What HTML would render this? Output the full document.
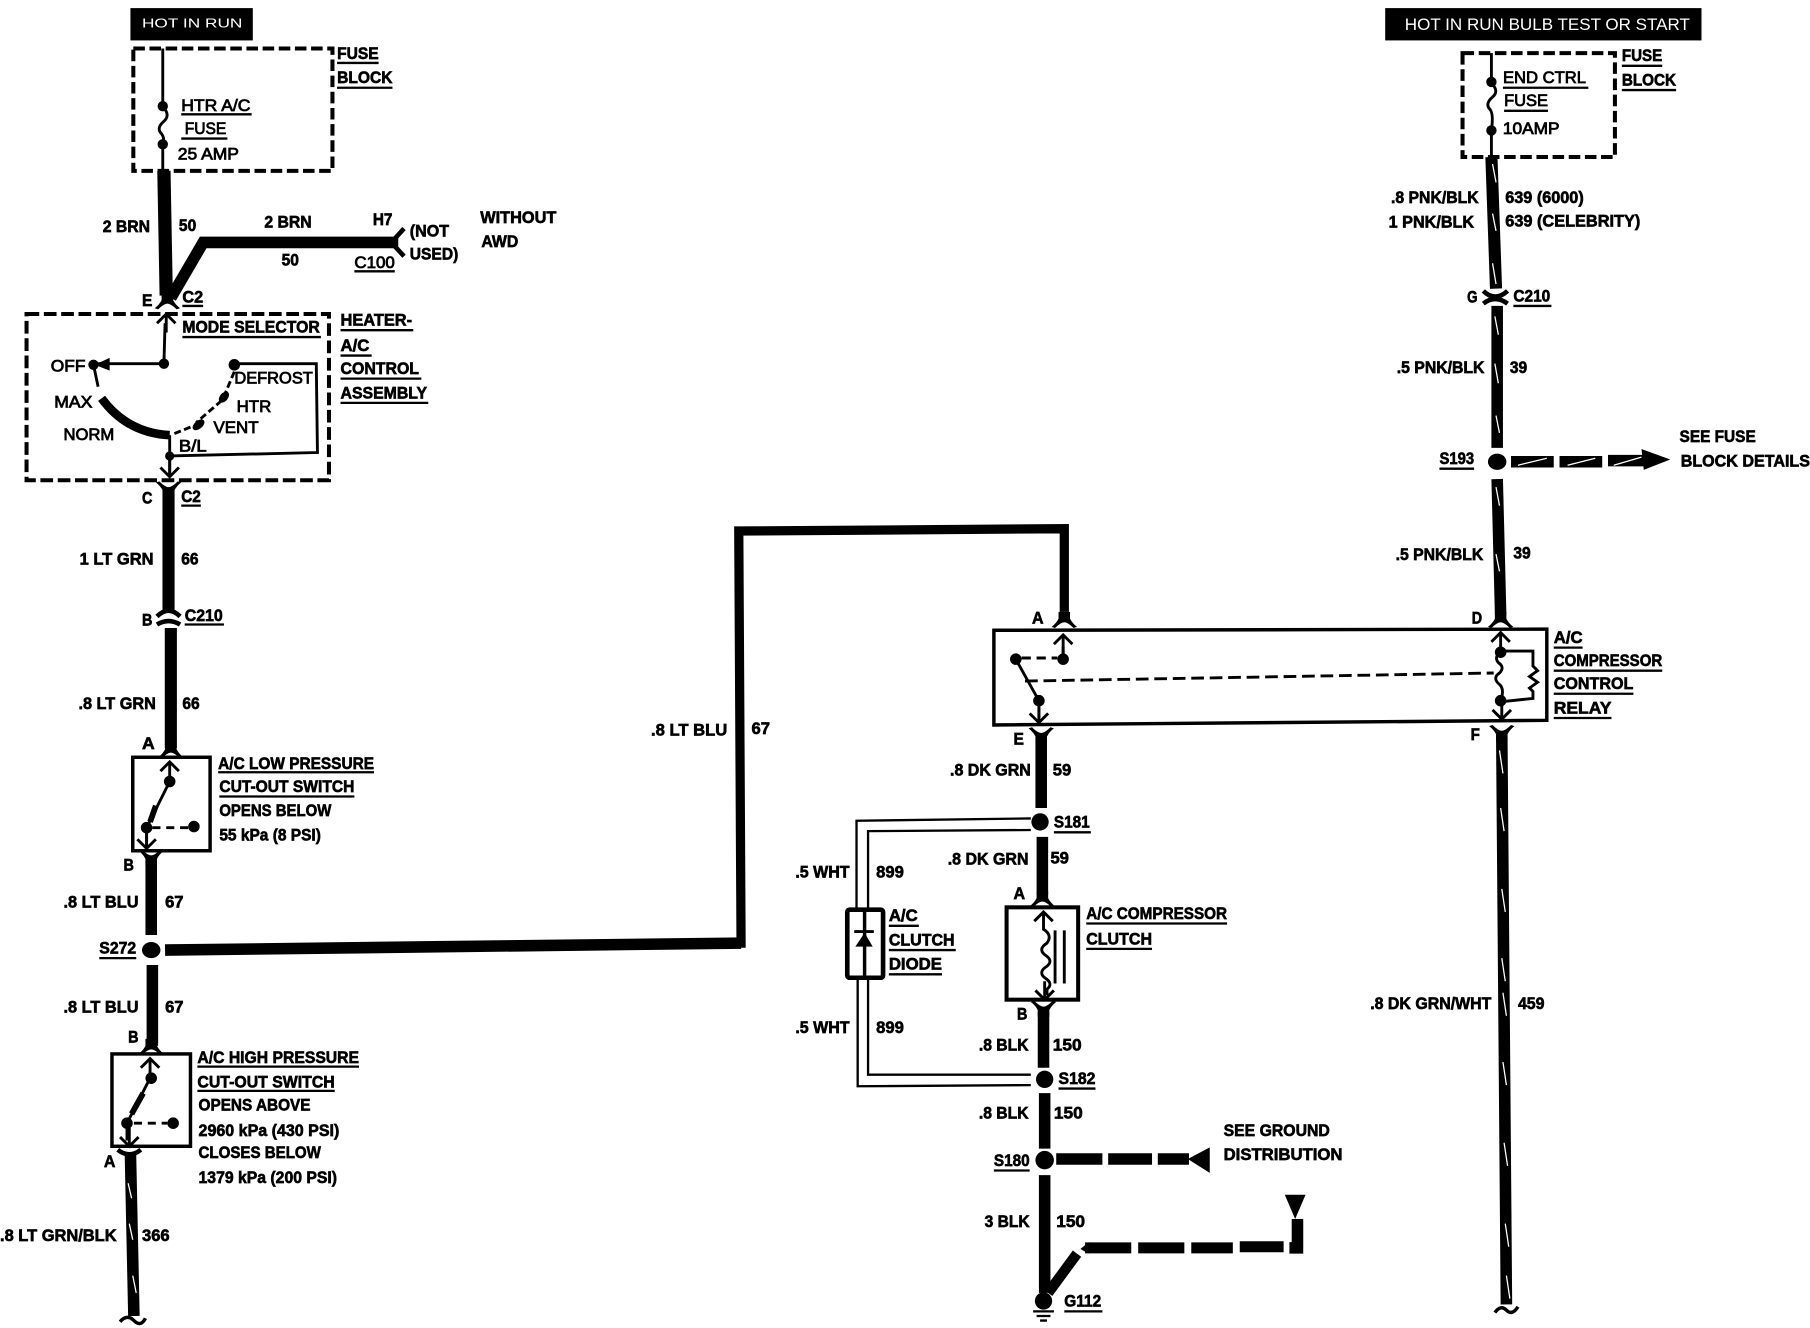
<!DOCTYPE html>
<html><head><meta charset="utf-8"><style>
html,body{margin:0;padding:0;background:#fff;width:1810px;height:1328px;overflow:hidden}
svg{display:block}
text{font-family:"Liberation Sans",sans-serif;font-weight:700;font-size:14.5px;fill:#000;stroke:#000;stroke-width:.55px}
.n{font-weight:400;stroke-width:.7px;font-size:14.5px}
.w{fill:#fff;stroke:none;font-weight:400}
.ul{stroke:#000;stroke-width:2;fill:none}
.wb{stroke:#000;fill:none}
.t{stroke:#000;fill:none;stroke-width:2.5}
.s{stroke:#fff;fill:none;stroke-width:1.1}
</style></head><body>
<svg width="1810" height="1328" viewBox="0 0 1568 1150.4" xmlns="http://www.w3.org/2000/svg">
<rect width="1568" height="1151" fill="#fff"/>
<defs>
<path id="fb" d="M-5,-8 V-2 Q-7,2 -11,5 L-8,6 Q-3,1 0,1 Q3,1 8,6 L11,5 Q7,2 5,-2 V-8 Z"/>
<path id="ft" d="M-5,8 V2 Q-7,-2 -11,-5 L-8,-6 Q-3,-1 0,-1 Q3,-1 8,-6 L11,-5 Q7,-2 5,2 V8 Z"/>
<path id="au" d="M-8,8 L0,0 L8,8 M0,0 V16" fill="none" stroke="#000" stroke-width="2.5"/>
<path id="ad" d="M-8,-8 L0,0 L8,-8 M0,0 V-16" fill="none" stroke="#000" stroke-width="2.5"/>
</defs>

<!-- black header boxes -->
<rect x="113" y="7" width="106" height="28" fill="#000"/>
<text class="w" x="123" y="24" style="font-size:11.5px" textLength="87" lengthAdjust="spacingAndGlyphs">HOT IN RUN</text>
<rect x="1200" y="7" width="274" height="28" fill="#000"/>
<text class="w" x="1217" y="26" style="font-size:14px" textLength="247" lengthAdjust="spacingAndGlyphs">HOT IN RUN BULB TEST OR START</text>

<!-- dashed blocks -->
<rect x="115.500" y="42" width="172.500" height="106" fill="none" stroke="#000" stroke-width="3.500" stroke-dasharray="10 4"/>
<rect x="23" y="272" width="262" height="144" fill="none" stroke="#000" stroke-width="3.500" stroke-dasharray="11 4"/>
<rect x="1267" y="46" width="132" height="90" fill="none" stroke="#000" stroke-width="3.500" stroke-dasharray="10 4"/>

<!-- left fuse -->
<path class="t" d="M141,42 V92 M141,125 V148"/>
<path class="t" d="M141,92 q7,8 1,13 q-7,6 -2,11 q3,4 1,9"/>
<circle cx="141" cy="92" r="4.500"/><circle cx="141" cy="125" r="4.500"/>
<!-- brown wires -->
<path class="wb" stroke-width="11.500" d="M142,148 L144,256"/>
<path class="wb" stroke-width="10" d="M148,258 L176,210 H345"/>
<path d="M339,210 L350,198 M339,210 L350,222" stroke="#000" stroke-width="4" fill="none"/>
<use href="#fb" x="145" y="262"/>
<use href="#au" x="144" y="272"/>

<!-- mode selector interior -->
<path class="t" d="M143,280 L142,315 H84"/>
<path d="M95,310 L82,316 L95,321 Z"/>
<circle cx="142" cy="315" r="4.500"/><circle cx="81" cy="316" r="4.500"/>
<path class="t" d="M81,316 L85,335"/>
<path d="M88,345 Q110,375 147,377" fill="none" stroke="#000" stroke-width="7.500"/>
<path class="t" d="M147,377 V410"/>
<use href="#ad" x="147" y="413"/>
<circle cx="147" cy="395" r="4"/>
<path class="t" d="M147,395 L275,392 L274,315 H203"/>
<circle cx="203" cy="316" r="5"/>
<path class="t" d="M203,322 L195,341 M192,347 L170,366 M165,370 L150,376" stroke-dasharray="6 3"/>
<ellipse cx="194" cy="344" rx="3.500" ry="5.500" transform="rotate(40 194 344)"/><ellipse cx="172" cy="368" rx="3.500" ry="6" transform="rotate(50 172 368)"/>

<!-- left lower wires -->
<use href="#ft" x="146" y="423"/>
<path class="wb" stroke-width="10.500" d="M146,425 V528"/>
<path d="M136,534 Q146,524 156,534 M136,541 Q146,535 156,541" stroke="#000" stroke-width="4" fill="none"/>
<path class="wb" stroke-width="10.500" d="M148,544 V648"/>
<use href="#fb" x="148" y="651"/>
<rect x="115" y="656" width="67" height="81" fill="none" stroke="#000" stroke-width="3"/>
<use href="#au" x="147" y="660"/>
<path class="t" d="M147,677 L127,717 V733"/>
<path d="M135,698 L130,712" stroke="#000" stroke-width="5" fill="none"/>
<circle cx="147" cy="677" r="5"/><circle cx="127" cy="717" r="5"/><circle cx="168" cy="716" r="5"/>
<path class="t" d="M132,717 H163" stroke-dasharray="7 5"/>
<use href="#ad" x="127" y="735"/>
<use href="#ft" x="131" y="742"/>
<path class="wb" stroke-width="10" d="M131,746 V810"/>
<ellipse cx="131" cy="823" rx="8" ry="7"/>
<path class="wb" stroke-width="10" d="M143,823 L642,817"/>
<path class="wb" stroke-width="8" d="M642,821 L640,460 L922,458 V530"/>
<path class="wb" stroke-width="10" d="M132,836 V906"/>
<use href="#fb" x="131" y="908"/>
<rect x="97" y="913" width="68" height="80" fill="none" stroke="#000" stroke-width="3"/>
<use href="#au" x="130" y="917"/>
<path class="t" d="M130,928 V934 L110,973 V988"/>
<path d="M124,947 L114,965" stroke="#000" stroke-width="5" fill="none"/>
<circle cx="131" cy="934" r="5"/><circle cx="110" cy="973" r="5"/><circle cx="150" cy="973" r="5"/>
<path class="t" d="M116,973 H145" stroke-dasharray="7 5"/>
<use href="#ad" x="112" y="993"/>
<path d="M102,996 Q112,1004 122,996" stroke="#000" stroke-width="4" fill="none"/>
<path class="wb" stroke-width="10" d="M113,1000 L116,1140"/>
<path d="M104,1145 Q110,1138 116,1144 Q122,1150 126,1142" stroke="#000" stroke-width="3" fill="none"/>
<path class="s" d="M111,1025 L114,1038 M112,1060 L115,1074 M115,1105 L118,1120"/>

<!-- relay box -->
<path d="M861,546 L1340,545 L1340,624 L861,628 Z" fill="none" stroke="#000" stroke-width="3"/>
<use href="#fb" x="922" y="538"/>
<use href="#au" x="921" y="550"/>
<path class="t" d="M921,560 V571"/>
<circle cx="921" cy="571" r="5"/><circle cx="880" cy="571" r="5"/><circle cx="900" cy="607" r="5"/>
<path class="t" d="M885,570 H916" stroke-dasharray="8 5"/>
<path class="t" d="M880,571 L900,607 V622"/>
<use href="#ad" x="900" y="626"/>
<path class="t" d="M888,590 L1294,583" stroke-width="2" stroke-dasharray="11 5"/>
<use href="#fb" x="1300" y="538"/>
<use href="#au" x="1300" y="548"/>
<circle cx="1300" cy="565" r="5"/><circle cx="1300" cy="607" r="5"/>
<path class="t" d="M1300,565 q-6,4 -2,9 q6,4 1,9 q-6,4 -1,9 q6,4 2,15"/>
<path class="t" d="M1300,564 H1328 V577 l4,4 l-7,5 l7,5 l-7,5 l3,3 V605 L1300,608"/>
<use href="#ad" x="1301" y="623"/>

<!-- right wire -->
<path class="t" d="M1292,46 V72 M1292,113 V136"/>
<path class="t" d="M1292,72 q7,7 1,12 q-7,6 -2,11 q3,4 1,18"/>
<circle cx="1292" cy="71" r="4.500"/><circle cx="1292" cy="113" r="4.500"/>
<path class="wb" stroke-width="10.500" d="M1292,136 L1296,250"/>
<path d="M1285,252 Q1295,262 1306,252 M1285,263 Q1295,255 1306,263" stroke="#000" stroke-width="4" fill="none"/>
<path class="wb" stroke-width="10" d="M1297,265 V388"/>
<ellipse cx="1297" cy="400" rx="8" ry="7"/>
<path class="wb" stroke-width="10" d="M1297,415 L1300,532"/>
<path class="s" d="M1293,142 L1296,158 M1293,185 L1296,200 M1293,228 L1296,246 M1295,274 L1298,290 M1295,315 L1298,332 M1296,360 L1299,375 M1296,422 L1299,438 M1296,480 L1299,495"/>
<path class="wb" stroke-width="10" d="M1301,638 L1305,1130"/>
<use href="#ft" x="1301" y="634"/>
<path class="s" d="M1299,650 L1302,670 M1300,700 L1303,720 M1301,770 L1304,790 M1301,830 L1304,850 M1302,860 L1305,880 M1302,920 L1305,940 M1303,990 L1306,1010 M1304,1060 L1307,1080 M1305,1105 L1308,1125"/>
<path d="M1295,1137 Q1300,1130 1305,1135 Q1310,1140 1315,1132" stroke="#000" stroke-width="3" fill="none"/>
<path class="wb" stroke-width="10" d="M1309,400 H1346 M1351,400 H1388 M1393,399 H1426"/>
<path class="s" d="M1315,403 L1340,397 M1358,403 L1382,397 M1398,403 L1422,396" stroke-width="1"/>
<path d="M1422,389 L1447,398 L1424,407 Z"/>

<!-- center column -->
<use href="#ft" x="902" y="636"/>
<path class="wb" stroke-width="10" d="M902,640 V700"/>
<circle cx="901" cy="712" r="7.500"/>
<path class="wb" stroke-width="10" d="M903,725 V775"/>
<use href="#fb" x="903" y="780"/>
<rect x="872" y="786" width="62" height="80" fill="none" stroke="#000" stroke-width="3.500"/>
<use href="#au" x="904" y="790"/>
<path class="t" d="M904,805 q8,5 3,12 q-8,5 -2,10 q8,5 2,10 q-8,5 -2,10 q8,5 2,10 V862"/>
<use href="#ad" x="905" y="866"/>
<path class="t" d="M914,806 V852 M922,806 V852" stroke-width="1.800"/>
<use href="#ft" x="904" y="873"/>
<path class="wb" stroke-width="10" d="M904,876 V925"/>
<circle cx="905" cy="935" r="7.500"/>
<path class="wb" stroke-width="10" d="M905,947 V995"/>
<circle cx="905" cy="1005" r="8"/>
<path class="wb" stroke-width="10" d="M905,1018 V1120"/>
<circle cx="904" cy="1127" r="7.500"/>
<path d="M895,1136 H913 M898,1140 H910 M901,1144 H907" stroke="#000" stroke-width="2" fill="none"/>
<path class="wb" stroke-width="10" d="M915,1004 H955 M960,1004 H998 M1003,1004 H1030"/>
<path d="M1029,1004 L1048,994 V1016 Z"/>
<path class="wb" stroke-width="9" d="M908,1120 L933,1086"/>
<path class="wb" stroke-width="9.500" d="M940,1081 H980 M986,1081 H1026 M1032,1081 H1068 M1074,1080 H1112"/>
<path class="wb" stroke-width="10" d="M1117,1081 H1124 V1056"/>
<path d="M1113,1035 H1131 L1122,1056 Z"/>
<path d="M936,1082 L943,1076 V1086 Z"/>

<!-- white wires / diode -->
<path d="M893,709 L742,711 V787 M893,719 L752,720 V787 M752,848 V931 H893 M743,848 V941 L893,940" fill="none" stroke="#000" stroke-width="2"/>
<rect x="734" y="788" width="31" height="59" rx="2" fill="none" stroke="#000" stroke-width="4"/>
<path d="M749,789 V847" stroke="#000" stroke-width="3"/>
<path d="M749,808 L756,820 H741 Z" /><path d="M740,807 H757" stroke="#000" stroke-width="2.500"/>

<!-- texts -->
<g>
<text x="292" y="51" textLength="36" lengthAdjust="spacingAndGlyphs">FUSE</text>
<text x="292" y="72" textLength="48" lengthAdjust="spacingAndGlyphs">BLOCK</text>
<text class="n" x="157" y="96" textLength="60" lengthAdjust="spacingAndGlyphs">HTR A/C</text>
<text class="n" x="160" y="116" textLength="36" lengthAdjust="spacingAndGlyphs">FUSE</text>
<text class="n" x="154" y="138" textLength="53" lengthAdjust="spacingAndGlyphs">25 AMP</text>
<text x="89" y="201" textLength="41" lengthAdjust="spacingAndGlyphs">2 BRN</text>
<text x="155" y="200" textLength="15" lengthAdjust="spacingAndGlyphs">50</text>
<text x="229" y="197" textLength="41" lengthAdjust="spacingAndGlyphs">2 BRN</text>
<text x="323" y="195" textLength="17" lengthAdjust="spacingAndGlyphs">H7</text>
<text x="355" y="205" textLength="34" lengthAdjust="spacingAndGlyphs">(NOT</text>
<text x="355" y="225" textLength="42" lengthAdjust="spacingAndGlyphs">USED)</text>
<text x="244" y="230" textLength="15" lengthAdjust="spacingAndGlyphs">50</text>
<text class="n" x="307" y="232" textLength="35" lengthAdjust="spacingAndGlyphs">C100</text>
<text x="416" y="193" textLength="66" lengthAdjust="spacingAndGlyphs">WITHOUT</text>
<text x="417" y="214" textLength="32" lengthAdjust="spacingAndGlyphs">AWD</text>
<text x="123" y="265" textLength="9" lengthAdjust="spacingAndGlyphs">E</text>
<text x="158" y="262" textLength="18" lengthAdjust="spacingAndGlyphs">C2</text>
<text x="158" y="288" textLength="119" lengthAdjust="spacingAndGlyphs">MODE SELECTOR</text>
<text x="295" y="282" textLength="62" lengthAdjust="spacingAndGlyphs">HEATER-</text>
<text x="295" y="304" textLength="25" lengthAdjust="spacingAndGlyphs">A/C</text>
<text x="295" y="324" textLength="68" lengthAdjust="spacingAndGlyphs">CONTROL</text>
<text x="295" y="345" textLength="75" lengthAdjust="spacingAndGlyphs">ASSEMBLY</text>
<text class="n" x="44" y="322" textLength="30" lengthAdjust="spacingAndGlyphs">OFF</text>
<text class="n" x="47" y="353" textLength="33" lengthAdjust="spacingAndGlyphs">MAX</text>
<text class="n" x="55" y="381" textLength="44" lengthAdjust="spacingAndGlyphs">NORM</text>
<text class="n" x="203" y="332" textLength="68" lengthAdjust="spacingAndGlyphs">DEFROST</text>
<text class="n" x="205" y="357" textLength="30" lengthAdjust="spacingAndGlyphs">HTR</text>
<text class="n" x="185" y="375" textLength="39" lengthAdjust="spacingAndGlyphs">VENT</text>
<text class="n" x="155" y="391" textLength="24" lengthAdjust="spacingAndGlyphs">B/L</text>
<text x="123" y="436" textLength="9" lengthAdjust="spacingAndGlyphs">C</text>
<text x="157" y="435" textLength="17" lengthAdjust="spacingAndGlyphs">C2</text>
<text x="69" y="489" textLength="64" lengthAdjust="spacingAndGlyphs">1 LT GRN</text>
<text x="157" y="489" textLength="15" lengthAdjust="spacingAndGlyphs">66</text>
<text x="123" y="542" textLength="9" lengthAdjust="spacingAndGlyphs">B</text>
<text x="160" y="538" textLength="33" lengthAdjust="spacingAndGlyphs">C210</text>
<text x="68" y="614" textLength="67" lengthAdjust="spacingAndGlyphs">.8 LT GRN</text>
<text x="158" y="614" textLength="15" lengthAdjust="spacingAndGlyphs">66</text>
<text x="123" y="649" textLength="11" lengthAdjust="spacingAndGlyphs">A</text>
<text x="189" y="666" textLength="135" lengthAdjust="spacingAndGlyphs">A/C LOW PRESSURE</text>
<text x="190" y="686" textLength="117" lengthAdjust="spacingAndGlyphs">CUT-OUT SWITCH</text>
<text x="190" y="707" textLength="97" lengthAdjust="spacingAndGlyphs">OPENS BELOW</text>
<text x="190" y="728" textLength="88" lengthAdjust="spacingAndGlyphs">55 kPa (8 PSI)</text>
<text x="107" y="754" textLength="9" lengthAdjust="spacingAndGlyphs">B</text>
<text x="55" y="786" textLength="65" lengthAdjust="spacingAndGlyphs">.8 LT BLU</text>
<text x="143" y="786" textLength="16" lengthAdjust="spacingAndGlyphs">67</text>
<text x="86" y="826" textLength="32" lengthAdjust="spacingAndGlyphs">S272</text>
<text x="55" y="877" textLength="65" lengthAdjust="spacingAndGlyphs">.8 LT BLU</text>
<text x="143" y="877" textLength="16" lengthAdjust="spacingAndGlyphs">67</text>
<text x="111" y="903" textLength="9" lengthAdjust="spacingAndGlyphs">B</text>
<text x="171" y="921" textLength="140" lengthAdjust="spacingAndGlyphs">A/C HIGH PRESSURE</text>
<text x="171" y="942" textLength="119" lengthAdjust="spacingAndGlyphs">CUT-OUT SWITCH</text>
<text x="172" y="962" textLength="97" lengthAdjust="spacingAndGlyphs">OPENS ABOVE</text>
<text x="172" y="984" textLength="122" lengthAdjust="spacingAndGlyphs">2960 kPa (430 PSI)</text>
<text x="172" y="1003" textLength="106" lengthAdjust="spacingAndGlyphs">CLOSES BELOW</text>
<text x="172" y="1025" textLength="120" lengthAdjust="spacingAndGlyphs">1379 kPa (200 PSI)</text>
<text x="90" y="1011" textLength="10" lengthAdjust="spacingAndGlyphs">A</text>
<text x="0" y="1075" textLength="101" lengthAdjust="spacingAndGlyphs">.8 LT GRN/BLK</text>
<text x="123" y="1075" textLength="24" lengthAdjust="spacingAndGlyphs">366</text>
<text x="564" y="637" textLength="66" lengthAdjust="spacingAndGlyphs">.8 LT BLU</text>
<text x="651" y="636" textLength="16" lengthAdjust="spacingAndGlyphs">67</text>
<text x="894" y="540" textLength="10" lengthAdjust="spacingAndGlyphs">A</text>
<text x="1275" y="540" textLength="9" lengthAdjust="spacingAndGlyphs">D</text>
<text x="1346" y="557" textLength="25" lengthAdjust="spacingAndGlyphs">A/C</text>
<text x="1346" y="577" textLength="94" lengthAdjust="spacingAndGlyphs">COMPRESSOR</text>
<text x="1346" y="597" textLength="69" lengthAdjust="spacingAndGlyphs">CONTROL</text>
<text x="1346" y="618" textLength="50" lengthAdjust="spacingAndGlyphs">RELAY</text>
<text x="878" y="645" textLength="9" lengthAdjust="spacingAndGlyphs">E</text>
<text x="1274" y="641" textLength="8" lengthAdjust="spacingAndGlyphs">F</text>
<text x="823" y="672" textLength="70" lengthAdjust="spacingAndGlyphs">.8 DK GRN</text>
<text x="912" y="672" textLength="16" lengthAdjust="spacingAndGlyphs">59</text>
<text x="913" y="717" textLength="31" lengthAdjust="spacingAndGlyphs">S181</text>
<text x="821" y="749" textLength="70" lengthAdjust="spacingAndGlyphs">.8 DK GRN</text>
<text x="910" y="748" textLength="16" lengthAdjust="spacingAndGlyphs">59</text>
<text x="878" y="779" textLength="10" lengthAdjust="spacingAndGlyphs">A</text>
<text x="689" y="760" textLength="47" lengthAdjust="spacingAndGlyphs">.5 WHT</text>
<text x="759" y="760" textLength="24" lengthAdjust="spacingAndGlyphs">899</text>
<text x="770" y="798" textLength="25" lengthAdjust="spacingAndGlyphs">A/C</text>
<text x="770" y="819" textLength="57" lengthAdjust="spacingAndGlyphs">CLUTCH</text>
<text x="770" y="840" textLength="46" lengthAdjust="spacingAndGlyphs">DIODE</text>
<text x="941" y="796" textLength="122" lengthAdjust="spacingAndGlyphs">A/C COMPRESSOR</text>
<text x="941" y="818" textLength="57" lengthAdjust="spacingAndGlyphs">CLUTCH</text>
<text x="881" y="883" textLength="9" lengthAdjust="spacingAndGlyphs">B</text>
<text x="848" y="910" textLength="43" lengthAdjust="spacingAndGlyphs">.8 BLK</text>
<text x="912" y="910" textLength="25" lengthAdjust="spacingAndGlyphs">150</text>
<text x="689" y="895" textLength="47" lengthAdjust="spacingAndGlyphs">.5 WHT</text>
<text x="759" y="895" textLength="24" lengthAdjust="spacingAndGlyphs">899</text>
<text x="917" y="939" textLength="32" lengthAdjust="spacingAndGlyphs">S182</text>
<text x="848" y="969" textLength="43" lengthAdjust="spacingAndGlyphs">.8 BLK</text>
<text x="913" y="969" textLength="25" lengthAdjust="spacingAndGlyphs">150</text>
<text x="1060" y="984" textLength="92" lengthAdjust="spacingAndGlyphs">SEE GROUND</text>
<text x="1060" y="1005" textLength="103" lengthAdjust="spacingAndGlyphs">DISTRIBUTION</text>
<text x="861" y="1010" textLength="31" lengthAdjust="spacingAndGlyphs">S180</text>
<text x="853" y="1063" textLength="39" lengthAdjust="spacingAndGlyphs">3 BLK</text>
<text x="915" y="1063" textLength="25" lengthAdjust="spacingAndGlyphs">150</text>
<text x="922" y="1132" textLength="32" lengthAdjust="spacingAndGlyphs">G112</text>
<text x="1405" y="53" textLength="35" lengthAdjust="spacingAndGlyphs">FUSE</text>
<text x="1405" y="74" textLength="47" lengthAdjust="spacingAndGlyphs">BLOCK</text>
<text class="n" x="1302" y="72" textLength="72" lengthAdjust="spacingAndGlyphs">END CTRL</text>
<text class="n" x="1303" y="92" textLength="38" lengthAdjust="spacingAndGlyphs">FUSE</text>
<text class="n" x="1302" y="116" textLength="49" lengthAdjust="spacingAndGlyphs">10AMP</text>
<text x="1205" y="176" textLength="76" lengthAdjust="spacingAndGlyphs">.8 PNK/BLK</text>
<text x="1304" y="176" textLength="68" lengthAdjust="spacingAndGlyphs">639 (6000)</text>
<text x="1203" y="197" textLength="74" lengthAdjust="spacingAndGlyphs">1 PNK/BLK</text>
<text x="1304" y="196" textLength="117" lengthAdjust="spacingAndGlyphs">639 (CELEBRITY)</text>
<text x="1271" y="262" textLength="9" lengthAdjust="spacingAndGlyphs">G</text>
<text x="1311" y="261" textLength="32" lengthAdjust="spacingAndGlyphs">C210</text>
<text x="1210" y="323" textLength="76" lengthAdjust="spacingAndGlyphs">.5 PNK/BLK</text>
<text x="1308" y="323" textLength="15" lengthAdjust="spacingAndGlyphs">39</text>
<text x="1247" y="402" textLength="30" lengthAdjust="spacingAndGlyphs">S193</text>
<text x="1455" y="383" textLength="66" lengthAdjust="spacingAndGlyphs">SEE FUSE</text>
<text x="1456" y="404" textLength="112" lengthAdjust="spacingAndGlyphs">BLOCK DETAILS</text>
<text x="1209" y="485" textLength="76" lengthAdjust="spacingAndGlyphs">.5 PNK/BLK</text>
<text x="1311" y="484" textLength="15" lengthAdjust="spacingAndGlyphs">39</text>
<text x="1187" y="874" textLength="105" lengthAdjust="spacingAndGlyphs">.8 DK GRN/WHT</text>
<text x="1315" y="874" textLength="23" lengthAdjust="spacingAndGlyphs">459</text>
</g>

<!-- underlines -->
<path class="ul" d="M292,54.500 H328 M292,76 H340 M157,99 H218 M157,120 H197 M307,235 H342 M158,265 H176 M158,292 H278 M295,286 H358 M295,308 H322 M295,328 H365 M295,349 H371 M157,438 H174 M160,541 H194 M189,669 H324 M190,690 H307 M86,830 H118 M171,924 H311 M171,945 H290 M1346,561 H1371 M1346,581 H1440 M1346,601 H1415 M1346,622 H1396 M913,721 H945 M770,802 H796 M770,823 H828 M770,844 H816 M941,800 H1063 M941,822 H998 M917,943 H949 M861,1014 H892 M922,1136 H955 M1405,57 H1440 M1405,78 H1452 M1302,76 H1376 M1303,96 H1341 M1311,265 H1344 M1247,406 H1277"/>
</svg>
</body></html>
